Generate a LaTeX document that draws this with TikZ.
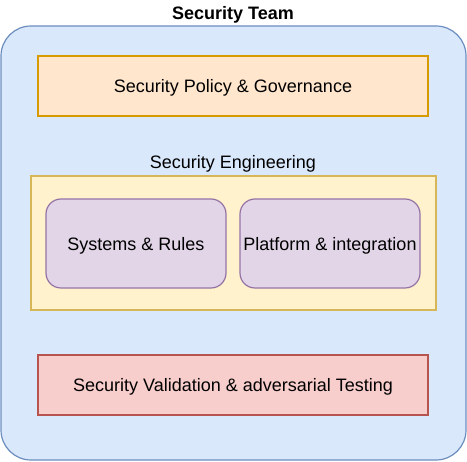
\documentclass[tikz,border=0pt]{standalone}
\usepackage{fontspec}
\setmainfont{Liberation Sans}
\usepackage{tikz}
\usetikzlibrary{positioning}

\definecolor{teamfill}{HTML}{DAE8FC}
\definecolor{teamdraw}{HTML}{6C8EBF}
\definecolor{polfill}{HTML}{FFE6CC}
\definecolor{poldraw}{HTML}{D79B00}
\definecolor{engfill}{HTML}{FFF2CC}
\definecolor{engdraw}{HTML}{D6B656}
\definecolor{subfill}{HTML}{E1D5E7}
\definecolor{subdraw}{HTML}{9673A6}
\definecolor{valfill}{HTML}{F8CECC}
\definecolor{valdraw}{HTML}{B85450}

\begin{document}
\begin{tikzpicture}[x=1pt, y=-1pt, line width=1.2pt,
    font=\fontsize{18}{21.6}\selectfont, text depth=0pt,
    box/.style={draw, minimum width=390pt, minimum height=60pt, inner sep=0pt},
    sub/.style={draw=subdraw, fill=subfill, rounded corners=15pt, minimum width=180pt, minimum height=89pt, inner sep=0pt}]
    \useasboundingbox (0,0) rectangle (467,462);
    \node[draw=teamdraw, fill=teamfill, rounded corners=30pt, minimum width=465pt, minimum height=434pt] (team) at (233.5,243) {};
    \node[font=\fontsize{18}{21.6}\selectfont\bfseries] (title) at (233,13) {Security Team};
    \node[box, draw=poldraw, fill=polfill] (policy) at (233,86) {Security Policy \& Governance};
    \node (englabel) at (233,162) {Security Engineering};
    \node[draw=engdraw, fill=engfill, minimum width=405pt, minimum height=134pt] (eng) at (233.5,243) {};
    \node[sub] (rules) at (136,243.5) {Systems \& Rules};
    \node[sub] (platform) at (330,243.5) {Platform \& integration};
    \node[box, draw=valdraw, fill=valfill] (validation) at (233,385) {Security Validation \& adversarial Testing};
\end{tikzpicture}
\end{document}
